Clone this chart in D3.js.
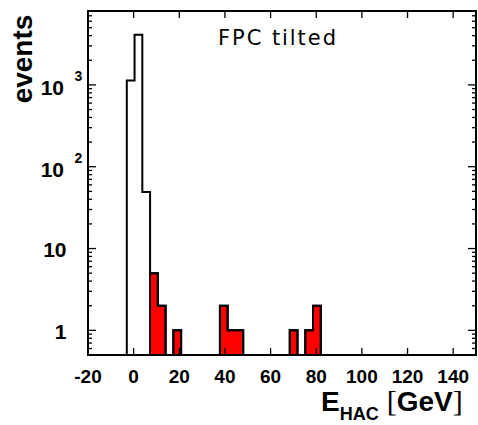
<!DOCTYPE html>
<html><head><meta charset="utf-8">
<script src="https://cdn.jsdelivr.net/npm/d3@7"></script>
<style>
html,body{margin:0;padding:0;background:#fff;}
svg{display:block;}
</style></head>
<body>
<svg id="chart" width="478" height="425"></svg>
<script>
// ---- data ----
const binLow      = [-3.0, 0.4, 3.8, 7.2, 10.6, 17.4, 37.8, 41.2, 44.6, 68.4, 75.2, 78.6];
const binWidth    = 3.4;
const totalCounts = [1130, 4100, 49, 5, 2, 1, 2, 1, 1, 1, 1, 2];
const redCounts   = [0, 0, 0, 5, 2, 1, 2, 1, 1, 1, 1, 2];
const xTicks      = [-20, 0, 20, 40, 60, 80, 100, 120, 140];
const yMajor      = [1, 10, 100, 1000];
const yMajorLabels= [["1",""],["10",""],["10","2"],["10","3"]];
const titleText   = "FPC tilted";

// ---- layout ----
const L = 88, R = 476, T = 11, B = 355;
const svg = d3.select("#chart");
const x = d3.scaleLinear().domain([-20, 150]).range([L, R]);
const y = d3.scaleLog().domain([0.5, 8000]).range([B, T]);
const FONT = "'Liberation Sans', Arial, Helvetica, sans-serif";

svg.append("defs").append("clipPath").attr("id","clip")
  .append("rect").attr("x",L).attr("y",T).attr("width",R-L).attr("height",B-T);

// step path builder: zero bins drop to the bottom
function stepPath(counts){
  const p = d3.path();
  let started = false, prevHi = null;
  counts.forEach((n,i)=>{
    if(!(n>0)) return;
    const lo = binLow[i], hi = binLow[i]+binWidth;
    const contiguous = prevHi!==null && Math.abs(prevHi-lo)<1e-6 && started;
    if(!contiguous){
      if(started) p.lineTo(x(prevHi), B+2);
      p.moveTo(x(lo), B+2);
    }
    p.lineTo(x(lo), y(n));
    p.lineTo(x(hi), y(n));
    prevHi = hi; started = true;
  });
  if(started) p.lineTo(x(prevHi), B+2);
  return p.toString();
}

const g = svg.append("g").attr("clip-path","url(#clip)");
g.append("path").attr("d", stepPath(redCounts))
  .attr("fill","#ff0000").attr("stroke","#000").attr("stroke-width",2)
  .attr("stroke-linejoin","miter");
g.append("path").attr("d", stepPath(totalCounts))
  .attr("fill","none").attr("stroke","#000").attr("stroke-width",2)
  .attr("stroke-linejoin","miter");

// ---- axes ----
const axG = svg.append("g").attr("stroke","#000").attr("stroke-width",1.3);
xTicks.forEach(v=>{
  axG.append("line").attr("x1",x(v)).attr("x2",x(v)).attr("y1",B).attr("y2",B-7);
  axG.append("line").attr("x1",x(v)).attr("x2",x(v)).attr("y1",T).attr("y2",T+7);
});
const yTickVals = [];
[0.1,1,10,100,1000].forEach(d=>{ for(let k=1;k<=9;k++){ const v=d*k; if(v>=0.5 && v<=8000) yTickVals.push(v);} });
yTickVals.forEach(v=>{
  const major = yMajor.includes(v);
  const len = major ? 8 : 4;
  axG.append("line").attr("x1",L).attr("x2",L+len).attr("y1",y(v)).attr("y2",y(v));
  axG.append("line").attr("x1",R).attr("x2",R-len).attr("y1",y(v)).attr("y2",y(v));
});

svg.append("rect").attr("x",L).attr("y",T).attr("width",R-L).attr("height",B-T)
  .attr("fill","none").attr("stroke","#000").attr("stroke-width",2);

// x tick labels
svg.append("g").selectAll("text").data(xTicks).join("text")
  .attr("x",d=>x(d)).attr("y",383).attr("text-anchor","middle")
  .attr("font-family",FONT).attr("font-weight","bold").attr("font-size",19)
  .text(d=>d);

// y tick labels
yMajor.forEach((v,i)=>{
  const [base, sup] = yMajorLabels[i];
  if(sup===""){
    svg.append("text").attr("x",66.5).attr("y",y(v)+8.5).attr("text-anchor","end")
      .attr("font-family",FONT).attr("font-weight","bold").attr("font-size",21).text(base);
  } else {
    svg.append("text").attr("x",64).attr("y",y(v)+10).attr("text-anchor","end")
      .attr("font-family",FONT).attr("font-weight","bold").attr("font-size",21).text(base);
    svg.append("text").attr("x",74.5).attr("y",y(v)-3.5).attr("text-anchor","start")
      .attr("font-family",FONT).attr("font-weight","bold").attr("font-size",14).text(sup);
  }
});

// y title
svg.append("text").attr("transform","translate(32,59) rotate(-90)")
  .attr("text-anchor","middle").attr("font-family",FONT).attr("font-weight","bold")
  .attr("font-size",28).text("events");

// x title
const xt = svg.append("text").attr("x",321).attr("y",411)
  .attr("font-family",FONT).attr("font-weight","bold").attr("font-size",28);
xt.append("tspan").text("E");
xt.append("tspan").attr("font-size",18).attr("dy",9).text("HAC");
xt.append("tspan").attr("dy",-9).attr("dx",8).attr("font-family","'Liberation Serif','Times New Roman',serif")
  .attr("font-weight","normal").attr("font-size",30).text("[");
xt.append("tspan").text("GeV");
xt.append("tspan").attr("font-family","'Liberation Serif','Times New Roman',serif")
  .attr("font-weight","normal").attr("font-size",30).text("]");

// in-plot label
svg.append("text").attr("x",218).attr("y",45)
  .attr("font-family","'DejaVu Sans', sans-serif").attr("font-weight","normal")
  .attr("font-size",21).attr("textLength",118).attr("lengthAdjust","spacing")
  .text(titleText);
</script>
</body></html>
